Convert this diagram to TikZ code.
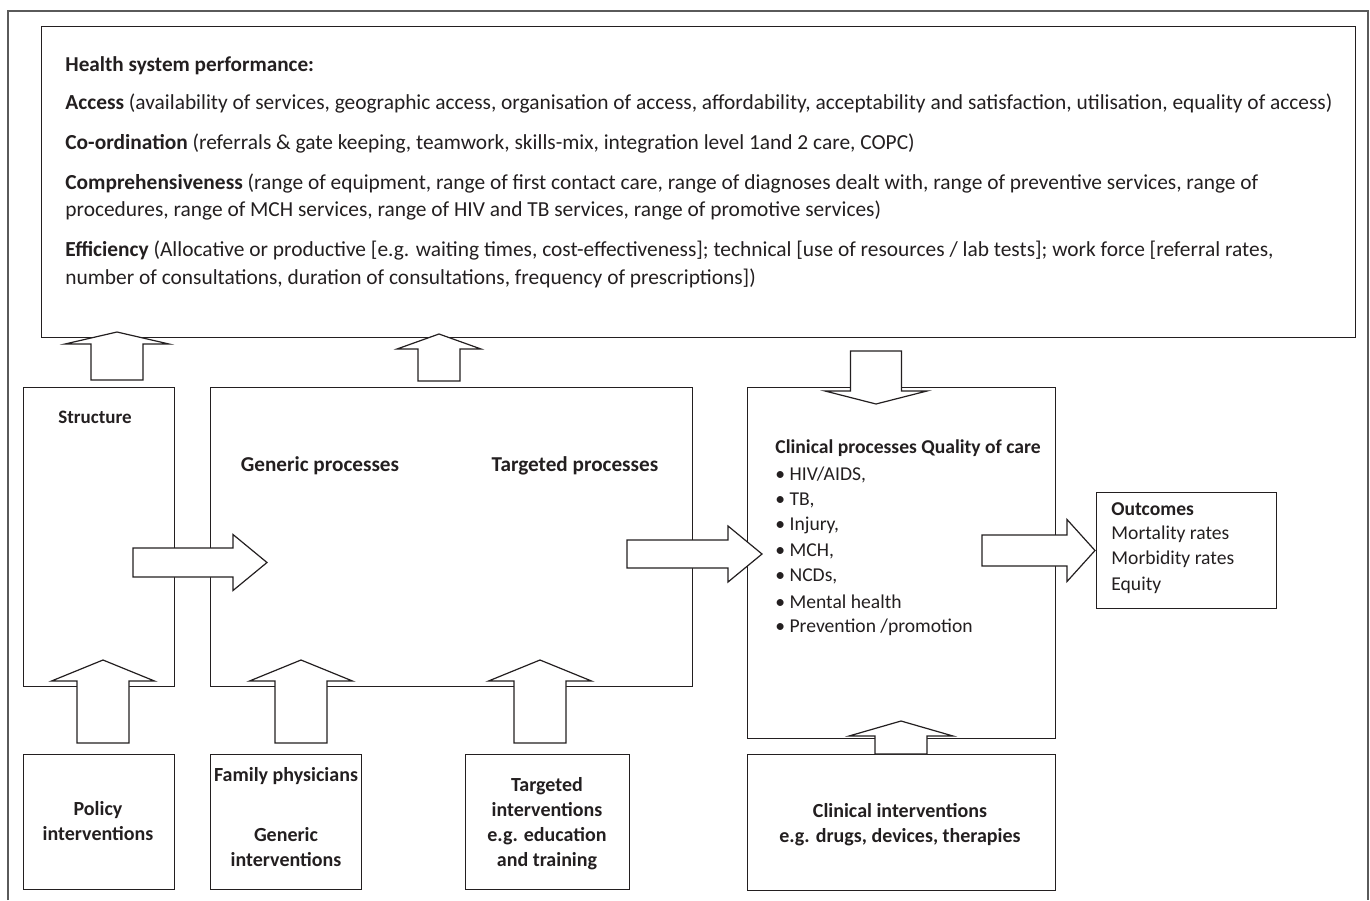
\documentclass[tikz,border=0pt]{standalone}
\usepackage{fontspec}
\setmainfont{Carlito}
\usepackage{tikz}
\usetikzlibrary{positioning, calc}
\definecolor{colorLinea}{HTML}{231F20}
\definecolor{colorMarco}{HTML}{5A5A5A}

\tikzset{
  pics/blk/.style n args={4}{code={
    \draw[colorLinea, line width=0.6pt, fill=white, line join=miter]
      (0,-#2) -- ({#1-#4},-#2) -- ({#1-#4},-#3) -- (#1,0) -- ({#1-#4},#3) -- ({#1-#4},#2) -- (0,#2) -- cycle;
  }}
}

\begin{document}
\begin{tikzpicture}[
        x=0.5pt, y=-0.5pt,
        box/.style={draw=colorLinea, line width=0.6pt, inner sep=0pt, anchor=north west},
        tx/.style={font=\fontsize{10.7}{13.5}\selectfont, inner sep=0pt, anchor=west, text=colorLinea},
        hd/.style={tx, font=\fontsize{10.6}{13.5}\selectfont\bfseries},
        li/.style={tx, font=\fontsize{9.8}{12.5}\selectfont},
        bt/.style={font=\fontsize{10}{12.5}\selectfont\bfseries, align=center, inner sep=0pt, text=colorLinea}
    ]
    \useasboundingbox (0,0) rectangle (1370,900);
    \draw[colorMarco, line width=0.8pt] (8,900) -- (8,11) -- (1368,11) -- (1368,900);

    % performance box
    \node[box, minimum width=657pt, minimum height=155.5pt] (perf) at (41,26) {};
    \node[hd] (hsp) at (65,66) {Health system performance:};
    \node[tx] (acc) at (65,104) {\textbf{Access} (availability of services, geographic access, organisation of access, affordability, acceptability and satisfaction, utilisation, equality of access)};
    \node[tx] (coo) at (65,144) {\textbf{Co-ordination} (referrals \& gate keeping, teamwork, skills-mix, integration level 1and 2 care, COPC)};
    \node[tx] (com) at (65,184) {\textbf{Comprehensiveness} (range of equipment, range of first contact care, range of diagnoses dealt with, range of preventive services, range of};
    \node[tx] (comb) at (65,211) {procedures, range of MCH services, range of HIV and TB services, range of promotive services)};
    \node[tx] (eff) at (65,251) {\textbf{Efficiency} (Allocative or productive [e.g. waiting times, cost-effectiveness]; technical [use of resources / lab tests]; work force [referral rates,};
    \node[tx] (effb) at (65,278) {number of consultations, duration of consultations, frequency of prescriptions])};

    % middle row
    \node[box, minimum width=75.5pt, minimum height=149.5pt] (struct) at (23,387) {};
    \node[bt, font=\fontsize{9.5}{11}\selectfont\bfseries] (structL) at (95,417) {Structure};
    \node[box, minimum width=241pt, minimum height=149.5pt] (proc) at (210,387) {};
    \node[hd, anchor=center] (gen) at (320,466) {Generic processes};
    \node[hd, anchor=center] (tgt) at (575,466) {Targeted processes};
    \node[box, minimum width=154pt, minimum height=175.5pt] (clin) at (747,387) {};
    \node[li, font=\fontsize{9.8}{12.5}\selectfont\bfseries] (clinL) at (775,448) {Clinical processes Quality of care};
    \foreach \t [count=\i] in {{HIV/AIDS,}, {TB,}, {Injury,}, {MCH,}, {NCDs,}, {Mental health}, {Prevention /promotion}}
        \node[li] (b\i) at (775,{449+25.5*\i}) {•~\t};
    \node[box, minimum width=90pt, minimum height=58pt] (outc) at (1096,492) {};
    \node[li, font=\fontsize{9.8}{12.5}\selectfont\bfseries] (outL) at (1111,509) {Outcomes};
    \node[li] (mort) at (1111,534) {Mortality rates};
    \node[li] (morb) at (1111,559) {Morbidity rates};
    \node[li] (equ) at (1111,585) {Equity};

    % interventions
    \node[box, minimum width=75.5pt, minimum height=67.5pt] (pol) at (23,754) {};
    \node[bt] (polL) at (98,821) {Policy\\interventions};
    \node[box, minimum width=75.5pt, minimum height=67.5pt] (fam) at (210,754) {};
    \node[bt] (famL) at (286,776) {Family physicians};
    \node[bt] (genL) at (286,847) {Generic\\interventions};
    \node[box, minimum width=82pt, minimum height=67.5pt] (tin) at (465,754) {};
    \node[bt] (tinL) at (547,824) {Targeted\\interventions\\e.g. education\\and training};
    \node[box, minimum width=154pt, minimum height=68pt] (cin) at (747,754) {};
    \node[bt] (cinL) at (900,825) {Clinical interventions\\e.g. drugs, devices, therapies};

    % block arrows
    \pic[rotate=90] (aStr) at (117,380) {blk={48}{26}{52}{12}};
    \pic[rotate=90] (aProc) at (439,381) {blk={47}{21}{42}{15}};
    \pic[rotate=-90] (aClin) at (876,351) {blk={53}{25.5}{51}{13}};
    \pic (aSP) at (133,562.5) {blk={134}{14.5}{28}{34}};
    \pic (aPC) at (627,554) {blk={135}{14}{28}{34}};
    \pic (aCO) at (982,550.5) {blk={113}{15.5}{31}{28}};
    \foreach \x in {103,301,540}
        \pic[rotate=90] at (\x,743) {blk={83}{26}{51.5}{21}};
    \pic[rotate=90] (aCin) at (901,754) {blk={33}{26}{52}{15}};
\end{tikzpicture}
\end{document}
